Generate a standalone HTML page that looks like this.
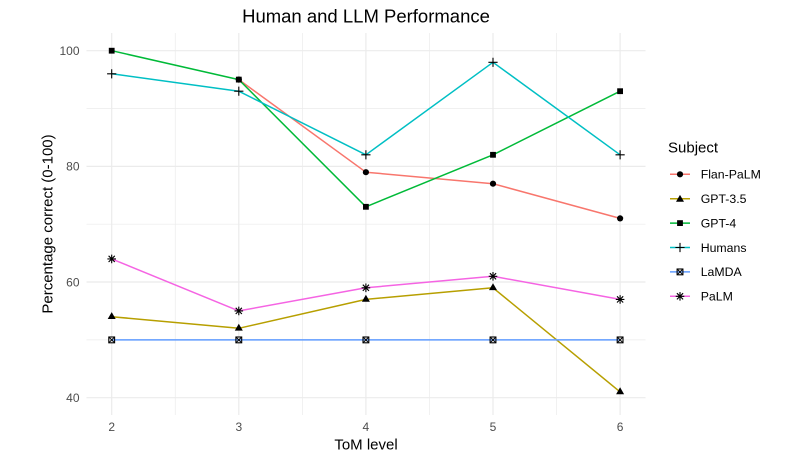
<!DOCTYPE html>
<html>
<head>
<meta charset="utf-8">
<style>
html,body{margin:0;padding:0;background:#fff;}
svg{display:block;}
text{font-family:"Liberation Sans",Arial,sans-serif;}
</style>
</head>
<body>
<svg width="786" height="466" viewBox="0 0 786 466" xmlns="http://www.w3.org/2000/svg">
<defs>
  <g id="circ"><circle cx="0" cy="0" r="3.1" fill="#000"/></g>
  <g id="tri"><polygon points="0,-4.6 4,2.3 -4,2.3" fill="#000"/></g>
  <g id="sq"><rect x="-2.9" y="-2.9" width="5.8" height="5.8" fill="#000"/></g>
  <g id="plus"><path d="M-4.6,0H4.6M0,-4.6V4.6" stroke="#000" stroke-width="1.1" fill="none"/></g>
  <g id="sqx"><rect x="-2.9" y="-2.9" width="5.8" height="5.8" fill="none" stroke="#000" stroke-width="1.1"/><path d="M-2.9,-2.9L2.9,2.9M-2.9,2.9L2.9,-2.9" stroke="#000" stroke-width="1"/></g>
  <g id="ast"><path d="M-4.3,0H4.3M0,-4.3V4.3M-3.1,-3.1L3.1,3.1M-3.1,3.1L3.1,-3.1" stroke="#000" stroke-width="1.1" fill="none"/></g>
</defs>

<!-- minor grid -->
<g stroke="#EBEBEB" stroke-width="0.7" fill="none">
  <path d="M86.5,108.5H645.5M86.5,224.2H645.5M86.5,339.9H645.5"/>
  <path d="M175.25,33V415M302.35,33V415M429.45,33V415M556.55,33V415"/>
</g>
<!-- major grid -->
<g stroke="#EBEBEB" stroke-width="1.2" fill="none">
  <path d="M86.5,50.7H645.5M86.5,166.4H645.5M86.5,282H645.5M86.5,397.7H645.5"/>
  <path d="M111.7,33V415M238.8,33V415M365.9,33V415M493,33V415M620.1,33V415"/>
</g>

<!-- series lines -->
<g fill="none" stroke-width="1.5" stroke-linejoin="round">
  <polyline stroke="#F8766D" points="238.8,79.6 365.9,172.2 493,183.7 620.1,218.4"/>
  <polyline stroke="#B79F00" points="111.7,316.7 238.8,328.3 365.9,299.4 493,287.8 620.1,391.9"/>
  <polyline stroke="#00BA38" points="111.7,50.7 238.8,79.6 365.9,206.8 493,154.8 620.1,91.2"/>
  <polyline stroke="#00BFC4" points="111.7,73.8 238.8,91.2 365.9,154.8 493,62.3 620.1,154.8"/>
  <polyline stroke="#619CFF" points="111.7,339.9 238.8,339.9 365.9,339.9 493,339.9 620.1,339.9"/>
  <polyline stroke="#F564E3" points="111.7,258.9 238.8,310.9 365.9,287.8 493,276.3 620.1,299.4"/>
</g>

<!-- points -->
<use href="#circ" x="238.8" y="79.6"/><use href="#circ" x="365.9" y="172.2"/><use href="#circ" x="493" y="183.7"/><use href="#circ" x="620.1" y="218.4"/>
<use href="#tri" x="111.7" y="316.7"/><use href="#tri" x="238.8" y="328.3"/><use href="#tri" x="365.9" y="299.4"/><use href="#tri" x="493" y="287.8"/><use href="#tri" x="620.1" y="391.9"/>
<use href="#sq" x="111.7" y="50.7"/><use href="#sq" x="238.8" y="79.6"/><use href="#sq" x="365.9" y="206.8"/><use href="#sq" x="493" y="154.8"/><use href="#sq" x="620.1" y="91.2"/>
<use href="#plus" x="111.7" y="73.8"/><use href="#plus" x="238.8" y="91.2"/><use href="#plus" x="365.9" y="154.8"/><use href="#plus" x="493" y="62.3"/><use href="#plus" x="620.1" y="154.8"/>
<use href="#sqx" x="111.7" y="339.9"/><use href="#sqx" x="238.8" y="339.9"/><use href="#sqx" x="365.9" y="339.9"/><use href="#sqx" x="493" y="339.9"/><use href="#sqx" x="620.1" y="339.9"/>
<use href="#ast" x="111.7" y="258.9"/><use href="#ast" x="238.8" y="310.9"/><use href="#ast" x="365.9" y="287.8"/><use href="#ast" x="493" y="276.3"/><use href="#ast" x="620.1" y="299.4"/>

<!-- y tick labels -->
<g font-size="12" fill="#4D4D4D" text-anchor="end">
  <text x="79.5" y="55">100</text>
  <text x="79.5" y="170.7">80</text>
  <text x="79.5" y="286.3">60</text>
  <text x="79.5" y="402">40</text>
</g>
<!-- x tick labels -->
<g font-size="12" fill="#4D4D4D" text-anchor="middle">
  <text x="111.7" y="431">2</text>
  <text x="238.8" y="431">3</text>
  <text x="365.9" y="431">4</text>
  <text x="493" y="431">5</text>
  <text x="620.1" y="431">6</text>
</g>

<!-- axis titles -->
<text x="366" y="449.5" font-size="15" text-anchor="middle" fill="#000">ToM level</text>
<text transform="translate(52.5,224) rotate(-90)" font-size="15" text-anchor="middle" fill="#000">Percentage correct (0-100)</text>

<!-- title -->
<text x="366" y="22.5" font-size="18.5" text-anchor="middle" fill="#000">Human and LLM Performance</text>

<!-- legend -->
<text x="668" y="152.5" font-size="15" fill="#000">Subject</text>
<g stroke-width="1.5">
  <line x1="670" y1="174.3" x2="690" y2="174.3" stroke="#F8766D"/>
  <line x1="670" y1="198.7" x2="690" y2="198.7" stroke="#B79F00"/>
  <line x1="670" y1="223.1" x2="690" y2="223.1" stroke="#00BA38"/>
  <line x1="670" y1="247.5" x2="690" y2="247.5" stroke="#00BFC4"/>
  <line x1="670" y1="271.9" x2="690" y2="271.9" stroke="#619CFF"/>
  <line x1="670" y1="296.3" x2="690" y2="296.3" stroke="#F564E3"/>
</g>
<use href="#circ" x="680" y="174.3"/>
<use href="#tri" x="680" y="199.5"/>
<use href="#sq" x="680" y="223.1"/>
<use href="#plus" x="680" y="247.5"/>
<use href="#sqx" x="680" y="271.9"/>
<use href="#ast" x="680" y="296.3"/>
<g font-size="12.3" fill="#000">
  <text x="700.7" y="178.6">Flan-PaLM</text>
  <text x="700.7" y="203">GPT-3.5</text>
  <text x="700.7" y="227.4">GPT-4</text>
  <text x="700.7" y="251.8">Humans</text>
  <text x="700.7" y="276.2">LaMDA</text>
  <text x="700.7" y="300.6">PaLM</text>
</g>
</svg>
</body>
</html>
